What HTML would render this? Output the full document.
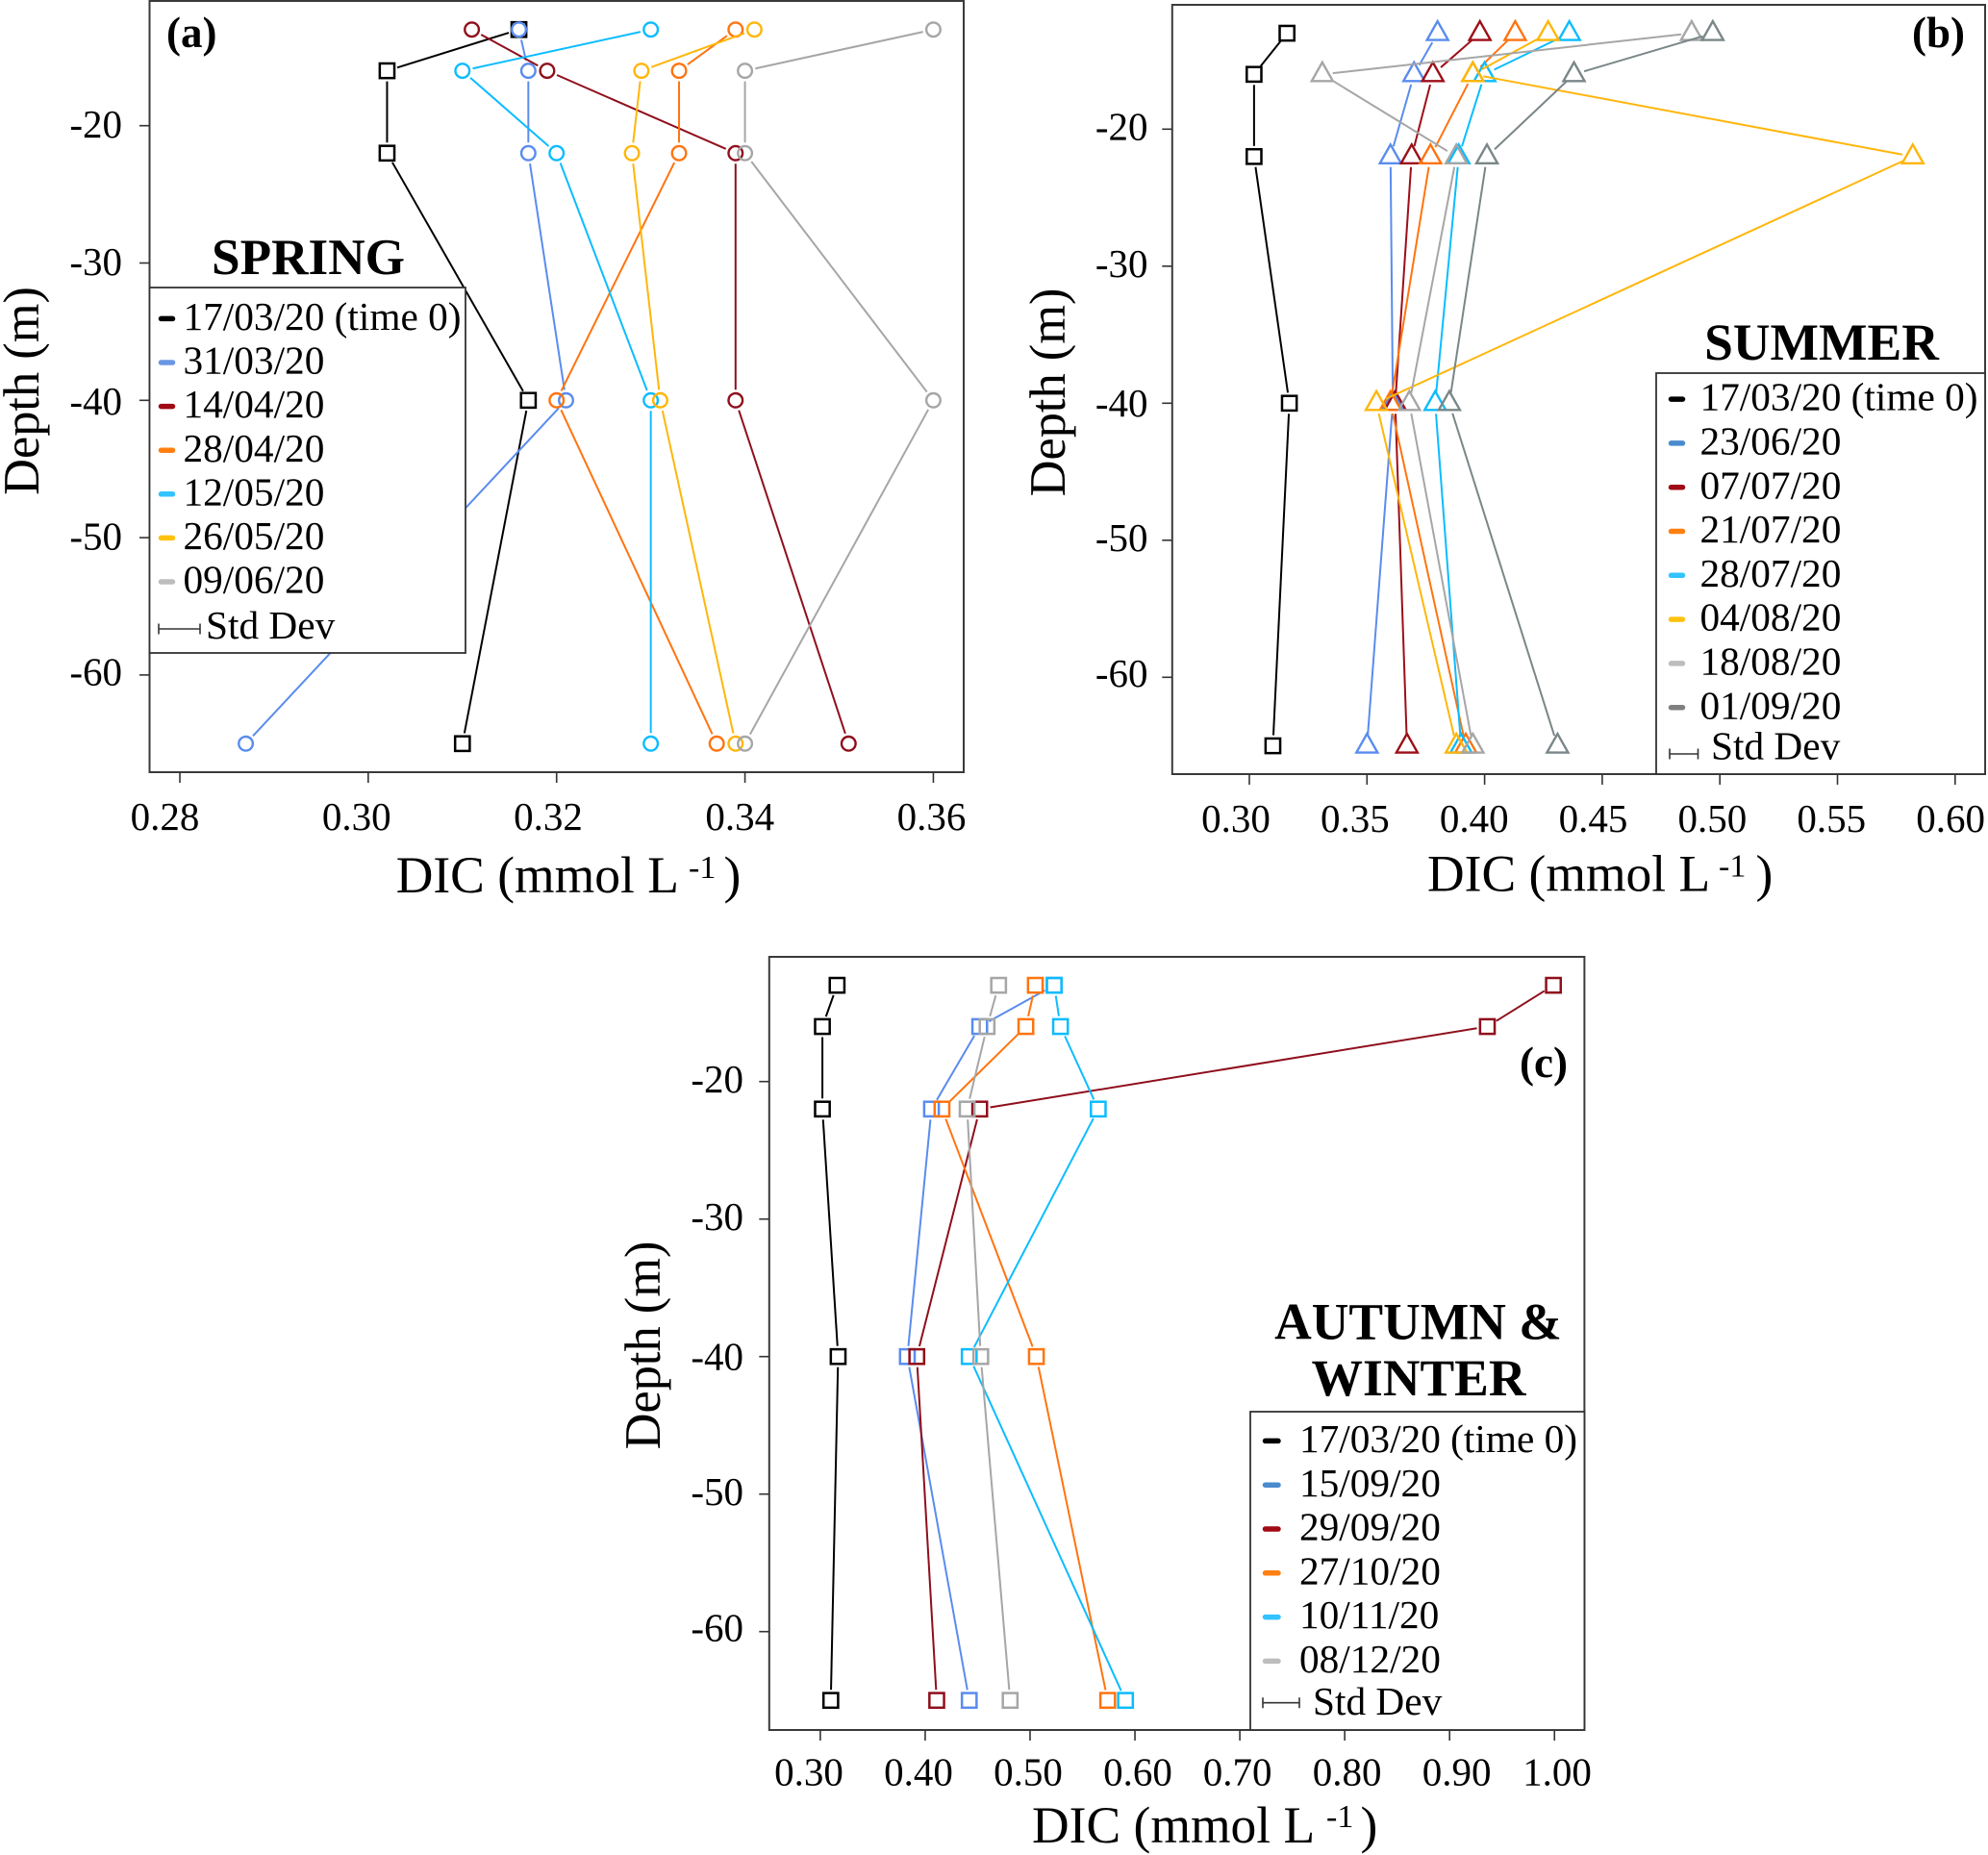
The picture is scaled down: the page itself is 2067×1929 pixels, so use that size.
<!DOCTYPE html>
<html lang="en">
<head>
<meta charset="utf-8">
<title>DIC depth profiles</title>
<style>
html,body{margin:0;padding:0;background:#fff;}
svg{display:block;font-family:"Liberation Serif","Times New Roman",serif;fill:#000;}
.bold{font-weight:bold;}
</style>
</head>
<body>
<svg id="figure" xmlns="http://www.w3.org/2000/svg" width="2067" height="1929" viewBox="0 0 2067 1929">
<rect x="0" y="0" width="2067" height="1929" fill="#fff"/>

<g id="panel-a">
  <rect x="155.5" y="1" width="846.5" height="802" fill="none" stroke="#3a3a3a" stroke-width="2"/>
  <g id="a-axes"></g>
  <g id="a-marks"></g>
  <rect x="155.5" y="299" width="328.5" height="380" fill="#fff" stroke="#333" stroke-width="1.8"/>
  <g id="a-legend"></g>
  <text class="bold" x="320.5" y="285" font-size="53.2" text-anchor="middle">SPRING</text>
  <text class="bold" x="173" y="49" font-size="45">(a)</text>
  <text transform="translate(40,406.5) rotate(-90)" font-size="52.4" text-anchor="middle">Depth (m)</text>
  <text x="411.7" y="928" font-size="53.5">DIC (mmol L</text>
  <text x="716" y="913" font-size="34">-1</text>
  <text x="752.5" y="928" font-size="53.5">)</text>
</g>

<g id="panel-b">
  <rect x="1218.8" y="5" width="845.2" height="800" fill="none" stroke="#3a3a3a" stroke-width="2"/>
  <g id="b-axes"></g>
  <g id="b-marks"></g>
  <rect x="1722" y="388" width="342" height="417" fill="#fff" stroke="#333" stroke-width="1.8"/>
  <g id="b-legend"></g>
  <text class="bold" x="1894" y="374" font-size="53.5" text-anchor="middle">SUMMER</text>
  <text class="bold" x="1988" y="49" font-size="45">(b)</text>
  <text transform="translate(1107,408) rotate(-90)" font-size="52.4" text-anchor="middle">Depth (m)</text>
  <text x="1484" y="926.7" font-size="53.5">DIC (mmol L</text>
  <text x="1787" y="911.7" font-size="34">-1</text>
  <text x="1825.5" y="926.7" font-size="53.5">)</text>
</g>

<g id="panel-c">
  <rect x="799.8" y="995" width="847.6" height="804" fill="none" stroke="#3a3a3a" stroke-width="2"/>
  <g id="c-axes"></g>
  <g id="c-marks"></g>
  <rect x="1300" y="1468" width="347.4" height="331" fill="#fff" stroke="#333" stroke-width="1.8"/>
  <g id="c-legend"></g>
  <text class="bold" x="1474.5" y="1392.3" font-size="53.5" text-anchor="middle">AUTUMN &amp;</text>
  <text class="bold" x="1475" y="1451" font-size="53.5" text-anchor="middle">WINTER</text>
  <text class="bold" x="1580" y="1120" font-size="45">(c)</text>
  <text transform="translate(686,1399) rotate(-90)" font-size="52.4" text-anchor="middle">Depth (m)</text>
  <text x="1073" y="1916" font-size="53.5">DIC (mmol L</text>
  <text x="1379" y="1900" font-size="34">-1</text>
  <text x="1414.5" y="1916" font-size="53.5">)</text>
</g>
</svg>

<script>
// ---------- shared data ----------
const depths = [-13, -16, -22, -40, -65];
const depthTicks = [-20, -30, -40, -50, -60];
const depthTickLabels = ['-20', '-30', '-40', '-50', '-60'];
const time0 = [0.316, 0.302, 0.302, 0.317, 0.310];

// ---------- spring ----------
const springDates = ['17/03/20 (time 0)', '31/03/20', '14/04/20', '28/04/20', '12/05/20', '26/05/20', '09/06/20'];
const spring0331 = [0.316, 0.317, 0.317, 0.321, 0.287];
const spring0414 = [0.311, 0.319, 0.339, 0.339, 0.351];
const spring0428 = [0.339, 0.333, 0.333, 0.320, 0.337];
const spring0512 = [0.330, 0.310, 0.320, 0.330, 0.330];
const spring0526 = [0.341, 0.329, 0.328, 0.331, 0.339];
const spring0609 = [0.360, 0.340, 0.340, 0.360, 0.340];
const springSeries = [time0, spring0331, spring0414, spring0428, spring0512, spring0526, spring0609];
const springXTicks = [0.28, 0.30, 0.32, 0.34, 0.36];
const springXTickLabels = ['0.28', '0.30', '0.32', '0.34', '0.36'];

// ---------- summer ----------
const summerDates = ['17/03/20 (time 0)', '23/06/20', '07/07/20', '21/07/20', '28/07/20', '04/08/20', '18/08/20', '01/09/20'];
const summer0623 = [0.380, 0.370, 0.360, 0.361, 0.350];
const summer0707 = [0.398, 0.378, 0.369, 0.362, 0.367];
const summer0721 = [0.413, 0.395, 0.377, 0.360, 0.392];
const summer0728 = [0.436, 0.400, 0.389, 0.379, 0.390];
const summer0804 = [0.427, 0.395, 0.582, 0.354, 0.388];
const summer0818 = [0.488, 0.331, 0.388, 0.368, 0.395];
const summer0901 = [0.497, 0.438, 0.401, 0.385, 0.431];
const summerSeries = [time0, summer0623, summer0707, summer0721, summer0728, summer0804, summer0818, summer0901];
const summerXTicks = [0.30, 0.35, 0.40, 0.45, 0.50, 0.55, 0.60];
const summerXTickLabels = ['0.30', '0.35', '0.40', '0.45', '0.50', '0.55', '0.60'];

// ---------- autumn & winter ----------
const autumnDates = ['17/03/20 (time 0)', '15/09/20', '29/09/20', '27/10/20', '10/11/20', '08/12/20'];
const autumn0915 = [0.523, 0.452, 0.406, 0.383, 0.442];
const autumn0929 = [0.999, 0.936, 0.452, 0.392, 0.411];
const autumn1027 = [0.505, 0.496, 0.416, 0.506, 0.574];
const autumn1110 = [0.523, 0.529, 0.565, 0.442, 0.591];
const autumn1208 = [0.470, 0.459, 0.440, 0.453, 0.481];
const autumnSeries = [time0, autumn0915, autumn0929, autumn1027, autumn1110, autumn1208];
const autumnXTicks = [0.30, 0.40, 0.50, 0.60, 0.70, 0.80, 0.90, 1.00];
const autumnXTickLabels = ['0.30', '0.40', '0.50', '0.60', '0.70', '0.80', '0.90', '1.00'];

// ---------- styles ----------
const springLineColors = ['#000000', '#5a8cee', '#8f0f1c', '#ff7410', '#0cbcff', '#ffb60a', '#a6a6a6'];
const springKeyColors = ['#000000', '#6a96e6', '#a00a14', '#ff7f10', '#33c3ff', '#ffc20e', '#bdbdbd'];
const summerLineColors = ['#000000', '#5a8cee', '#9c0f18', '#ff7410', '#0cbcff', '#ffb60a', '#a6a6a6', '#7a8688'];
const summerKeyColors = ['#000000', '#4a8bcf', '#a00a14', '#ff7f10', '#33c3ff', '#ffc20e', '#bdbdbd', '#7f7f7f'];
const autumnLineColors = ['#000000', '#5a8cee', '#8f0f1c', '#ff7410', '#0cbcff', '#a6a6a6'];
const autumnKeyColors = ['#000000', '#4a8bcf', '#a00a14', '#ff7f10', '#33c3ff', '#bdbdbd'];

const NS = 'http://www.w3.org/2000/svg';
function mk(tag, attrs, parent) {
  const el = document.createElementNS(NS, tag);
  for (const k in attrs) el.setAttribute(k, attrs[k]);
  parent.appendChild(el);
  return el;
}

function drawMarker(shape, px, py, color, parent) {
  let el;
  if (shape === 'circle') {
    el = mk('circle', {cx: px, cy: py, r: 7.3, fill: 'none', stroke: color, 'stroke-width': 2.4}, parent);
  } else if (shape === 'square') {
    el = mk('rect', {x: px - 7.6, y: py - 7.6, width: 15.2, height: 15.2, fill: 'none', stroke: color, 'stroke-width': 2.5}, parent);
  } else {
    const pts = [[px, py - 12.5], [px + 11, py + 7], [px - 11, py + 7]].map(p => p.join(',')).join(' ');
    el = mk('polygon', {points: pts, fill: 'none', stroke: color, 'stroke-width': 2.4}, parent);
  }
  
  
}

function drawPanel(p) {
  const axes = document.getElementById(p.id + '-axes');
  const marks = document.getElementById(p.id + '-marks');
  const legend = document.getElementById(p.id + '-legend');

  // axis functions
  const xScale = v => p.x0 + (v - p.xRef) * p.xUnit;
  const yScale = d => p.y20 + (-20 - d) * p.yUnit;
  const yLabelNudge = d => d === -40 ? 2.5 : (d === -60 ? -1.5 : 0);

  // x axis
  p.xTicks.forEach((v, i) => {
    const tick = mk('line', {x1: xScale(v), x2: xScale(v), y1: p.bottom, y2: p.bottom + 11, stroke: '#333', 'stroke-width': 1.6}, axes);
    
    
    const lab = mk('text', {x: p.xLabelPos(v), y: p.xLabelBase, 'font-size': 41, 'text-anchor': 'middle'}, axes);
    
    
    lab.textContent = p.xLabels[i];
  });

  // y axis
  depthTicks.forEach((d, i) => {
    const tick = mk('line', {x1: p.left - 10.5, x2: p.left, y1: yScale(d), y2: yScale(d), stroke: '#333', 'stroke-width': 1.6}, axes);
    
    
    const lab = mk('text', {x: p.yLabelRight, y: yScale(d) + p.yLabelDy + yLabelNudge(d), 'font-size': 41, 'text-anchor': 'end'}, axes);
    
    
    lab.textContent = depthTickLabels[i];
  });

  // series
  p.series.forEach((vals, s) => {
    const color = p.colors[s];
    const shape = s === 0 ? 'square' : p.shape;
    const gap = 11;
    const pts = vals.map((v, i) => [xScale(v), yScale(depths[i])]);
    for (let i = 0; i < pts.length - 1; i++) {
      const dx = pts[i + 1][0] - pts[i][0];
      const dy = pts[i + 1][1] - pts[i][1];
      const len = Math.hypot(dx, dy);
      if (len <= 2 * gap) continue;
      const ux = dx / len, uy = dy / len;
      const seg = mk('line', {
        x1: pts[i][0] + ux * gap, y1: pts[i][1] + uy * gap,
        x2: pts[i + 1][0] - ux * gap, y2: pts[i + 1][1] - uy * gap,
        stroke: color, 'stroke-width': 2
      }, marks);
      
      
    }
    pts.forEach(pt => drawMarker(shape, pt[0], pt[1], color, marks));
  });

  // legend
  p.dates.forEach((label, i) => {
    const base = p.legBase + i * p.legStep;
    const key = mk('line', {x1: p.keyX1, x2: p.keyX2, y1: base - 11.6, y2: base - 11.6, stroke: p.keyColors[i], 'stroke-width': 5.5, 'stroke-linecap': 'round'}, legend);
    
    
    const txt = mk('text', {x: p.legTextX, y: base, 'font-size': 41.3}, legend);
    
    
    txt.textContent = label;
  });

  // std dev key
  const bar = mk('path', {
    d: 'M' + p.brX1 + ' ' + (p.brY - 5.5) + 'V' + (p.brY + 5.5) + 'M' + p.brX2 + ' ' + (p.brY - 5.5) + 'V' + (p.brY + 5.5) + 'M' + p.brX1 + ' ' + p.brY + 'H' + p.brX2,
    fill: 'none', stroke: '#333', 'stroke-width': 1.6
  }, legend);
  
  
  const sd = mk('text', {x: p.sdX, y: p.sdBase, 'font-size': 41.3}, legend);
  
  
  sd.textContent = 'Std Dev';
}

drawPanel({
  id: 'a', series: springSeries, dates: springDates, colors: springLineColors, keyColors: springKeyColors, shape: 'circle',
  xTicks: springXTicks, xLabels: springXTickLabels,
  x0: 187, xRef: 0.28, xUnit: 9793, y20: 130.7, yUnit: 14.28, left: 155.5, bottom: 803,
  xLabelPos: v => 171.5 + (v - 0.28) * 9962, xLabelBase: 863, yLabelRight: 127, yLabelDy: 12.3,
  legBase: 343, legStep: 45.6, keyX1: 167.5, keyX2: 179.5, legTextX: 190.5,
  brX1: 165, brX2: 208, brY: 654, sdX: 214, sdBase: 664
});

drawPanel({
  id: 'b', series: summerSeries, dates: summerDates, colors: summerLineColors, keyColors: summerKeyColors, shape: 'triangle',
  xTicks: summerXTicks, xLabels: summerXTickLabels,
  x0: 1299, xRef: 0.30, xUnit: 2446, y20: 134.3, yUnit: 14.25, left: 1218.8, bottom: 805,
  xLabelPos: v => 1285 + (v - 0.30) * 2477, xLabelBase: 865, yLabelRight: 1193.5, yLabelDy: 11,
  legBase: 426.7, legStep: 45.8, keyX1: 1737.5, keyX2: 1749.5, legTextX: 1767.5,
  brX1: 1736, brX2: 1765.5, brY: 784, sdX: 1779, sdBase: 789.3
});

drawPanel({
  id: 'c', series: autumnSeries, dates: autumnDates, colors: autumnLineColors, keyColors: autumnKeyColors, shape: 'square',
  xTicks: autumnXTicks, xLabels: autumnXTickLabels,
  x0: 852.9, xRef: 0.30, xUnit: 1090.5, y20: 1124.7, yUnit: 14.3, left: 799.8, bottom: 1799,
  xLabelPos: v => v < 0.65 ? 841 + (v - 0.30) * 1140 : Math.min(1286.6 + (v - 0.70) * 1140, 1619),
  xLabelBase: 1856.7, yLabelRight: 773, yLabelDy: 11.3,
  legBase: 1510, legStep: 45.8, keyX1: 1315.5, keyX2: 1329, legTextX: 1351,
  brX1: 1313, brX2: 1351, brY: 1770.7, sdX: 1365, sdBase: 1783
});
</script>
</body>
</html>
